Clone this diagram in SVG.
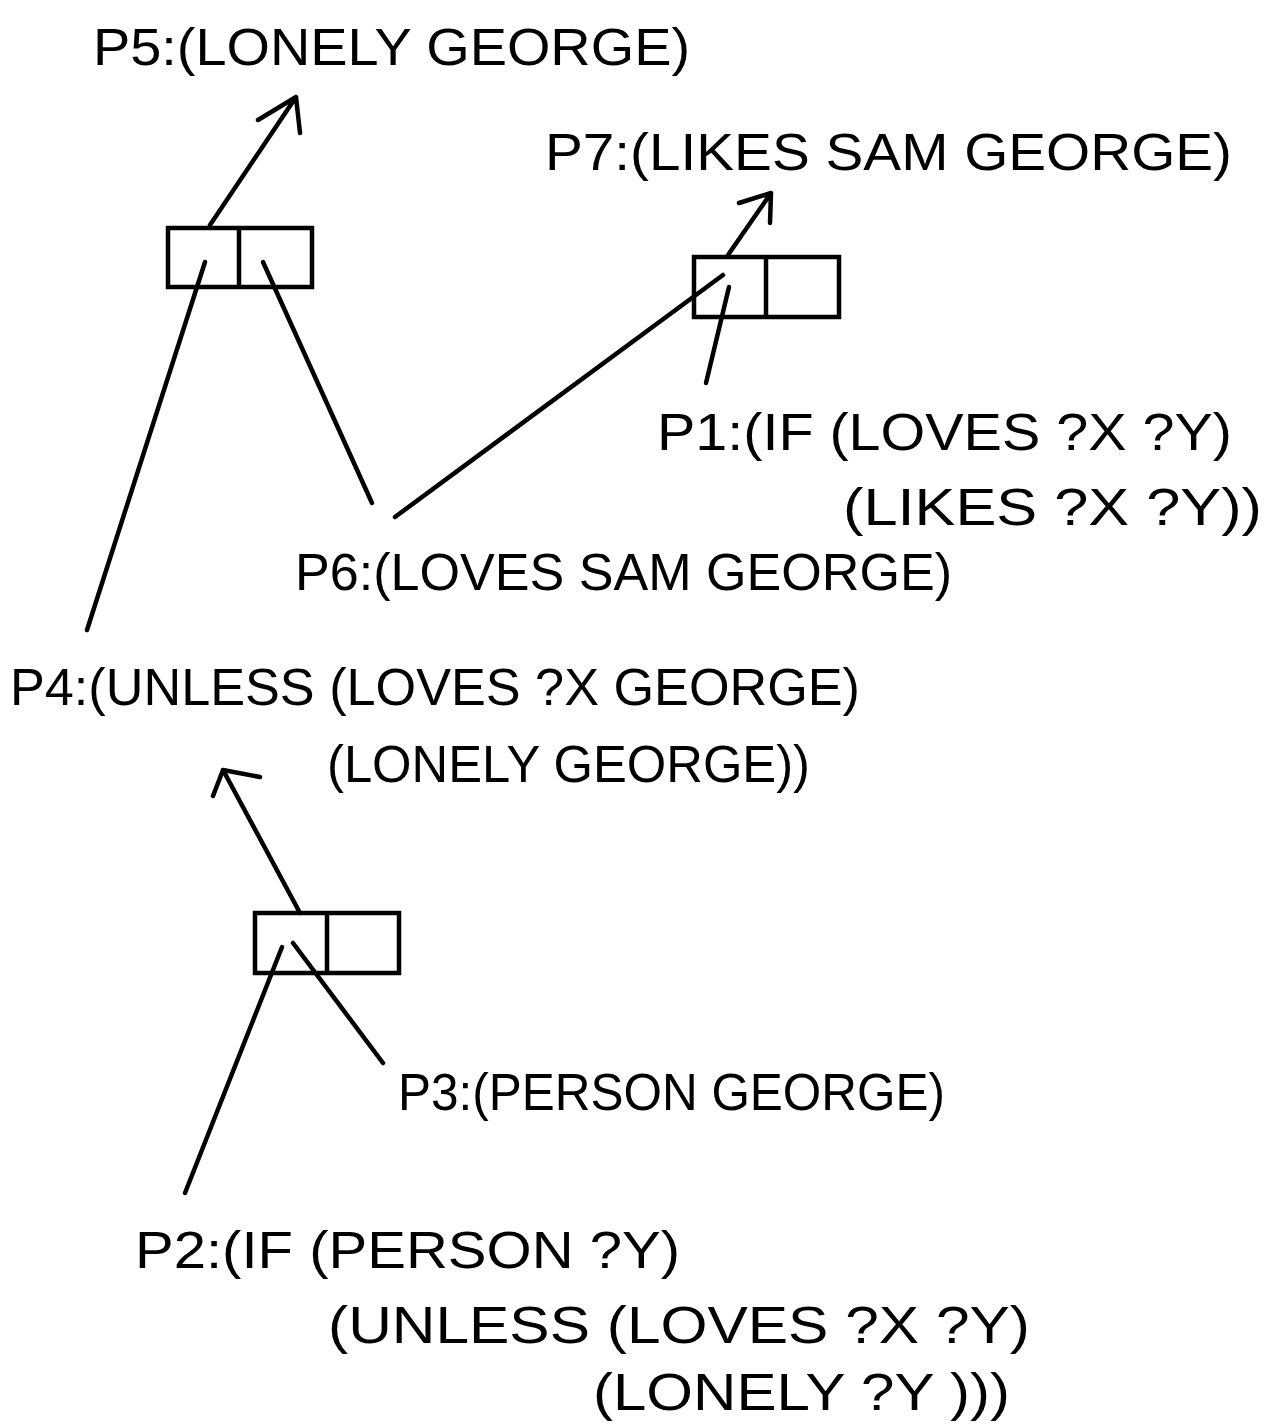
<svg xmlns="http://www.w3.org/2000/svg" width="1283" height="1426" viewBox="0 0 1283 1426">
<style>
.bg{fill:#fff}
.box{fill:none;stroke:#000;stroke-width:4.5;stroke-linejoin:miter}
.ln{fill:none;stroke:#000;stroke-width:4.5;stroke-linecap:round;stroke-linejoin:round}
.t{font-family:"Liberation Sans","DejaVu Sans",sans-serif;font-size:52px;fill:#000}
</style>
<rect class="bg" x="0" y="0" width="1283" height="1426"/>
<g id="connectors">
<path class="ln" d="M210,225 L296,97 M258,120 L296,97 L300,133"/>
<path class="ln" d="M205,262 L87,630"/>
<path class="ln" d="M263,262 L372,503"/>
<path class="ln" d="M395,517 L723,275"/>
<path class="ln" d="M728,255 L771,193 M739,203 L771,193 L770,223"/>
<path class="ln" d="M729,287 L706,383"/>
<path class="ln" d="M300,913 L223,770 M213,796 L223,770 L260,777"/>
<path class="ln" d="M282,947 L185,1193"/>
<path class="ln" d="M293,943 L383,1063"/>
</g>
<g id="cell1">
<rect class="box" x="168" y="228" width="144" height="59"/>
<line class="box" x1="239" y1="228" x2="239" y2="287"/>
</g>
<g id="cell2">
<rect class="box" x="694" y="257" width="145" height="60"/>
<line class="box" x1="766" y1="257" x2="766" y2="317"/>
</g>
<g id="cell3">
<rect class="box" x="255" y="913" width="144" height="60"/>
<line class="box" x1="327" y1="913" x2="327" y2="973"/>
</g>
<g id="P5"><text class="t" x="93" y="65" textLength="597" lengthAdjust="spacingAndGlyphs">P5:(LONELY GEORGE)</text></g>
<g id="P7"><text class="t" x="545" y="170" textLength="687" lengthAdjust="spacingAndGlyphs">P7:(LIKES  SAM  GEORGE)</text></g>
<g id="P1">
<text class="t" x="657" y="450" textLength="575" lengthAdjust="spacingAndGlyphs">P1:(IF (LOVES ?X ?Y)</text>
<text class="t" x="843" y="525" textLength="419" lengthAdjust="spacingAndGlyphs">(LIKES ?X ?Y))</text>
</g>
<g id="P6"><text class="t" x="295" y="590" textLength="657" lengthAdjust="spacingAndGlyphs">P6:(LOVES SAM  GEORGE)</text></g>
<g id="P4">
<text class="t" x="10" y="705" textLength="850" lengthAdjust="spacingAndGlyphs">P4:(UNLESS (LOVES  ?X  GEORGE)</text>
<text class="t" x="327" y="782" textLength="483" lengthAdjust="spacingAndGlyphs">(LONELY  GEORGE))</text>
</g>
<g id="P3"><text class="t" x="398" y="1110" textLength="547" lengthAdjust="spacingAndGlyphs">P3:(PERSON GEORGE)</text></g>
<g id="P2">
<text class="t" x="135" y="1268" textLength="545" lengthAdjust="spacingAndGlyphs">P2:(IF (PERSON  ?Y)</text>
<text class="t" x="328" y="1343" textLength="702" lengthAdjust="spacingAndGlyphs">(UNLESS  (LOVES  ?X  ?Y)</text>
<text class="t" x="593" y="1410" textLength="417" lengthAdjust="spacingAndGlyphs">(LONELY  ?Y )))</text>
</g>
</svg>
